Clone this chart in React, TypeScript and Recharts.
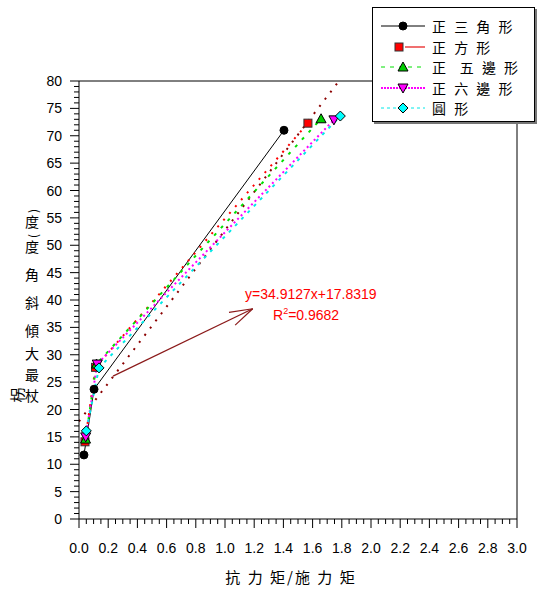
import React from 'react';
import { ComposedChart, Line, XAxis, YAxis, ReferenceLine, ReferenceDot } from 'recharts';

// series (x = 抗力矩/施力矩, y = 最大傾斜角度)
const triangleData = [
  { x: 0.034, y: 11.7 },
  { x: 0.103, y: 23.7 },
  { x: 1.404, y: 71.0 },
];
const squareData = [
  { x: 0.041, y: 14.1 },
  { x: 0.113, y: 27.7 },
  { x: 1.568, y: 72.3 },
];
const pentagonData = [
  { x: 0.045, y: 14.6 },
  { x: 0.12, y: 28.3 },
  { x: 1.658, y: 73.1 },
];
const hexagonData = [
  { x: 0.046, y: 15.0 },
  { x: 0.125, y: 28.3 },
  { x: 1.746, y: 72.9 },
];
const circleData = [
  { x: 0.05, y: 16.1 },
  { x: 0.137, y: 27.6 },
  { x: 1.79, y: 73.6 },
];

const fitSlope = 34.9127;
const fitIntercept = 17.8319;
const fitR2 = '0.9682';

const xMajorTicks = [0, 0.2, 0.4, 0.6, 0.8, 1.0, 1.2, 1.4, 1.6, 1.8, 2.0, 2.2, 2.4, 2.6, 2.8, 3.0];
const yMajorTicks = [0, 5, 10, 15, 20, 25, 30, 35, 40, 45, 50, 55, 60, 65, 70, 75, 80];

// minor ticks: 3 between x labels, 4 between y labels
const xAllTicks: number[] = [];
xMajorTicks.forEach((t, i) => {
  xAllTicks.push(t);
  if (i < xMajorTicks.length - 1) {
    for (let k = 1; k < 4; k++) xAllTicks.push(+(t + k * 0.05).toFixed(2));
  }
});
const yAllTicks: number[] = [];
yMajorTicks.forEach((t, i) => {
  yAllTicks.push(t);
  if (i < yMajorTicks.length - 1) {
    for (let k = 1; k < 5; k++) yAllTicks.push(t + k);
  }
});

const NUM_FONT = '"Liberation Sans", Arial, sans-serif';
const CJK_FONT = '"Noto Sans CJK TC", "Noto Sans CJK SC", sans-serif';

const isMajor = (v: number, list: number[]) => list.some((m) => Math.abs(m - v) < 1e-6);

const XTick = (props: any) => {
  const { x, y, payload } = props;
  const major = isMajor(payload.value, xMajorTicks);
  return (
    <g>
      <line x1={x} x2={x} y1={y} y2={y + (major ? 9 : 5)} stroke="#000" strokeWidth={1} />
      {major && (
        <text x={x} y={y + 34} textAnchor="middle" fontSize={14} fontFamily={NUM_FONT} fill="#000">
          {payload.value.toFixed(1)}
        </text>
      )}
    </g>
  );
};

const YTick = (props: any) => {
  const { x, y, payload } = props;
  const major = isMajor(payload.value, yMajorTicks);
  return (
    <g>
      <line x1={x} x2={x - (major ? 9 : 5)} y1={y} y2={y} stroke="#000" strokeWidth={1} />
      {major && (
        <text x={x - 17} y={y + 5} textAnchor="end" fontSize={14} fontFamily={NUM_FONT} fill="#000">
          {payload.value}
        </text>
      )}
    </g>
  );
};

type Marker = 'circle' | 'square' | 'triangle' | 'invTriangle' | 'diamond';

const drawMarker = (kind: Marker, cx: number, cy: number, fill: string, key?: any) => {
  const s = 4;
  switch (kind) {
    case 'circle':
      return <circle key={key} cx={cx} cy={cy} r={4} fill={fill} stroke="#000" strokeWidth={1} />;
    case 'square':
      return <rect key={key} x={cx - s} y={cy - s} width={2 * s} height={2 * s} fill={fill} stroke="#333" strokeWidth={1} />;
    case 'triangle':
      return <polygon key={key} points={`${cx},${cy - 5} ${cx + 5},${cy + 4} ${cx - 5},${cy + 4}`} fill={fill} stroke="#000" strokeWidth={1} />;
    case 'invTriangle':
      return <polygon key={key} points={`${cx - 5},${cy - 4} ${cx + 5},${cy - 4} ${cx},${cy + 5}`} fill={fill} stroke="#000" strokeWidth={1} />;
    case 'diamond':
      return <polygon key={key} points={`${cx},${cy - 5} ${cx + 5},${cy} ${cx},${cy + 5} ${cx - 5},${cy}`} fill={fill} stroke="#000" strokeWidth={1} />;
  }
};

const series = [
  { name: '正 三 角 形', data: triangleData, stroke: '#000000', dash: undefined, marker: 'circle' as Marker, fill: '#000000', legendStroke: '#000000', legendDash: undefined },
  { name: '正 方 形', data: squareData, stroke: '#ff0000', dash: '2 7', marker: 'square' as Marker, fill: '#ff0000', legendStroke: '#f07070', legendDash: undefined },
  { name: '正  五 邊 形', data: pentagonData, stroke: '#00e000', dash: '3 7', marker: 'triangle' as Marker, fill: '#00cc00', legendStroke: '#00e000', legendDash: '4 5' },
  { name: '正 六 邊 形', data: hexagonData, stroke: '#ff00ff', dash: '2 3', marker: 'invTriangle' as Marker, fill: '#ff00ff', legendStroke: '#ff00ff', legendDash: '2 1' },
  { name: '圓 形', data: circleData, stroke: '#00e8e8', dash: '3 6', marker: 'diamond' as Marker, fill: '#00ffff', legendStroke: '#00e8e8', legendDash: '3 3' },
];

const Arrow = (props: any) => {
  const { x1, y1, x2, y2 } = props;
  const ang = Math.atan2(y2 - y1, x2 - x1);
  const len = 24;
  const spread = 0.3;
  const ax = x2 - len * Math.cos(ang - spread);
  const ay = y2 - len * Math.sin(ang - spread);
  const bx = x2 - len * Math.cos(ang + spread);
  const by = y2 - len * Math.sin(ang + spread);
  return (
    <g stroke="#8b1a1a" strokeWidth={1.2} fill="none">
      <line x1={x1} y1={y1} x2={x2} y2={y2} />
      <line x1={x2} y1={y2} x2={ax} y2={ay} />
      <line x1={x2} y1={y2} x2={bx} y2={by} />
    </g>
  );
};

const FitLabel = (props: any) => {
  const { cx, cy } = props;
  return (
    <g fontFamily={NUM_FONT} fontSize={14} fill="#ff0000">
      <text x={cx} y={cy}>{`y=${fitSlope}x+${fitIntercept}`}</text>
      <text x={cx + 28} y={cy + 21}>
        R<tspan dy={-6} fontSize={9}>2</tspan>
        <tspan dy={6}>{`=${fitR2}`}</tspan>
      </text>
    </g>
  );
};

const yLabelChars = [
  { ch: '杖', y: 401 },
  { ch: '最', y: 380 },
  { ch: '大', y: 359 },
  { ch: '傾', y: 336 },
  { ch: '斜', y: 308 },
  { ch: '角', y: 280 },
  { ch: '度', y: 252 },
  { ch: '(', y: 236, rot: true },
  { ch: '度', y: 227 },
  { ch: ')', y: 211, rot: true },
];

const YAxisTitle = () => (
  <g fontFamily={CJK_FONT} fontSize={14} fill="#000">
    <text x={16} y={395} transform="rotate(-90 16 395)" textAnchor="middle" dominantBaseline="central" fontSize={15}>柺</text>
    {yLabelChars.map((c, i) =>
      c.rot ? (
        <text key={i} x={32} y={c.y} transform={`rotate(-90 32 ${c.y})`} textAnchor="middle" dominantBaseline="central" fontSize={12}>{c.ch}</text>
      ) : (
        <text key={i} x={32} y={c.y} textAnchor="middle">{c.ch}</text>
      )
    )}
  </g>
);

const XAxisTitle = () => (
  <text x={291} y={583} textAnchor="middle" fontFamily={CJK_FONT} fontSize={15} letterSpacing={2} fill="#000">
    抗 力 矩/施 力 矩
  </text>
);

const LegendBox = () => (
  <div
    style={{
      position: 'absolute',
      left: 372,
      top: 7,
      width: 163,
      height: 115,
      background: '#fff',
      border: '1px solid #000',
      boxShadow: '2px 2px 0 #777',
      boxSizing: 'border-box',
      paddingTop: 8,
    }}
  >
    {series.map((s) => (
      <div key={s.name} style={{ display: 'flex', alignItems: 'center', height: 20.5 }}>
        <svg width={50} height={16} style={{ marginLeft: 6 }}>
          {s.marker === 'square' ? (
            <line x1={26} x2={46} y1={8} y2={8} stroke={s.legendStroke} strokeWidth={2} />
          ) : (
            <line x1={2} x2={46} y1={8} y2={8} stroke={s.legendStroke} strokeWidth={s.marker === 'invTriangle' ? 2 : 1} strokeDasharray={s.legendDash} />
          )}
          {drawMarker(s.marker, s.marker === 'square' ? 20 : 24, 8, s.fill)}
        </svg>
        <span style={{ fontFamily: CJK_FONT, fontSize: 14, lineHeight: '16px', marginLeft: 3, whiteSpace: 'pre', letterSpacing: 2.5, color: '#000' }}>{s.name}</span>
      </div>
    ))}
  </div>
);

export default function App() {
  const fitEndX = (80 - fitIntercept) / fitSlope;
  return (
    <div style={{ position: 'absolute', left: 0, top: 0, width: 540, height: 589, background: '#fff' }}>
      <ComposedChart width={540} height={589} margin={{ top: 81, right: 23, bottom: 30, left: 0 }}>
        <XAxis
          type="number"
          dataKey="x"
          domain={[0, 3]}
          ticks={xAllTicks}
          interval={0}
          tickSize={0}
          tickMargin={0}
          tickLine={false}
          tick={<XTick />}
          axisLine={{ stroke: '#000' }}
          height={40}
          allowDataOverflow
          label={{ content: () => <XAxisTitle /> }}
        />
        <YAxis
          type="number"
          domain={[0, 80]}
          ticks={yAllTicks}
          interval={0}
          tickSize={0}
          tickMargin={0}
          tickLine={false}
          tick={<YTick />}
          axisLine={{ stroke: '#000' }}
          width={79}
          allowDataOverflow
          label={{ content: () => <YAxisTitle /> }}
        />
        <ReferenceLine y={80} stroke="#000" strokeWidth={1} />
        <ReferenceLine x={3} stroke="#000" strokeWidth={1} />
        <ReferenceLine
          segment={[
            { x: 0, y: fitIntercept },
            { x: fitEndX, y: 80 },
          ]}
          stroke="#8b0000"
          strokeWidth={2}
          strokeDasharray="2 7"
        />
        {series.map((s) => (
          <Line
            key={s.name}
            data={s.data}
            dataKey="y"
            type="linear"
            stroke={s.stroke}
            strokeWidth={s.marker === 'circle' ? 1 : 2}
            strokeDasharray={s.dash}
            isAnimationActive={false}
            dot={(p: any) => drawMarker(s.marker, p.cx, p.cy, s.fill, p.index)}
            activeDot={false}
          />
        ))}
        <ReferenceLine
          segment={[
            { x: 0.233, y: 26.1 },
            { x: 1.19, y: 38.4 },
          ]}
          shape={<Arrow />}
        />
        <ReferenceDot x={1.137} y={40.2} r={0} shape={<FitLabel />} />
      </ComposedChart>
      <LegendBox />
    </div>
  );
}
